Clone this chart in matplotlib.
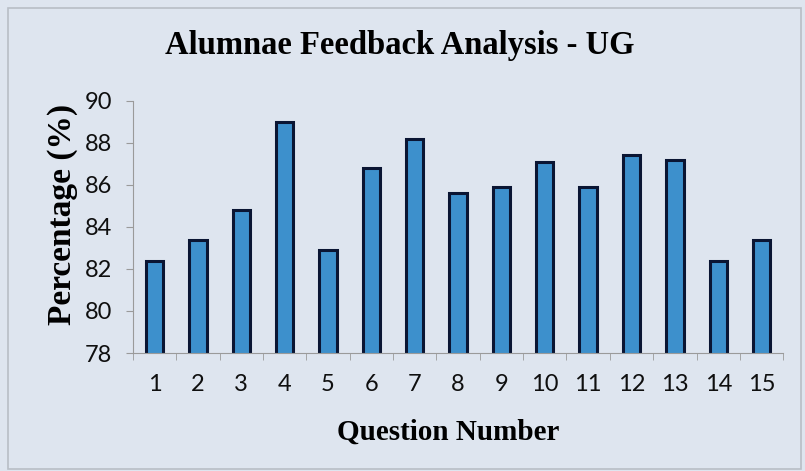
import matplotlib.pyplot as plt
from matplotlib.patches import Rectangle

questions = [str(i) for i in range(1, 16)]
percent = [82.4, 83.4, 84.8, 89.0, 82.9, 86.8, 88.2, 85.6, 85.9, 87.1, 85.9, 87.4, 87.2, 82.4, 83.4]
yticks = [78, 80, 82, 84, 86, 88, 90]

bg = '#dee5ef'
fig = plt.figure(figsize=(8.05, 4.71), dpi=100, facecolor=bg)
ax = fig.add_axes([0.165, 0.2505, 0.808, 0.5355])
ax.set_facecolor(bg)

# outer chart border
fig.patches.append(Rectangle((0.01, 0.005), 0.985, 0.978, transform=fig.transFigure,
                             fill=False, edgecolor='#b8bec6', linewidth=1.2))

x = list(range(len(questions)))
ax.bar(x, percent, width=0.4, color='#3d90cc', edgecolor='#0a1533', linewidth=2.2)

ax.set_ylim(78, 90)
ax.set_xlim(-0.5, len(questions) - 0.5)
ax.set_yticks(yticks)
ax.set_xticks(x)
ax.set_xticklabels(questions)
# minor ticks between categories
ax.set_xticks([i - 0.5 for i in range(len(questions) + 1)], minor=True)
ax.tick_params(axis='x', which='major', length=0, pad=15, labelsize=17)
ax.tick_params(axis='x', which='minor', length=5, color='#9a9a9a')
ax.tick_params(axis='y', length=5, color='#9a9a9a', labelsize=17, pad=10)

for s in ['top', 'right']:
    ax.spines[s].set_visible(False)
for s in ['left', 'bottom']:
    ax.spines[s].set_color('#9a9a9a')

for lab in ax.get_xticklabels() + ax.get_yticklabels():
    lab.set_family('Lato')
    lab.set_color('#0f0f0f')

ax.set_xlabel('Question Number', family='Liberation Serif', fontweight='bold',
              fontsize=21, va='center')
ax.xaxis.set_label_coords(0.485, -0.313)
ax.set_ylabel('Percentage (%)', family='Liberation Serif', fontweight='bold',
              fontsize=24, va='center')
ax.yaxis.set_label_coords(-0.108, 0.55)
fig.text(0.497, 0.904, 'Alumnae Feedback Analysis - UG', family='Liberation Serif',
         fontweight='bold', fontsize=23.5, ha='center', va='center')

fig.savefig('out.png', dpi=100, facecolor=bg)
